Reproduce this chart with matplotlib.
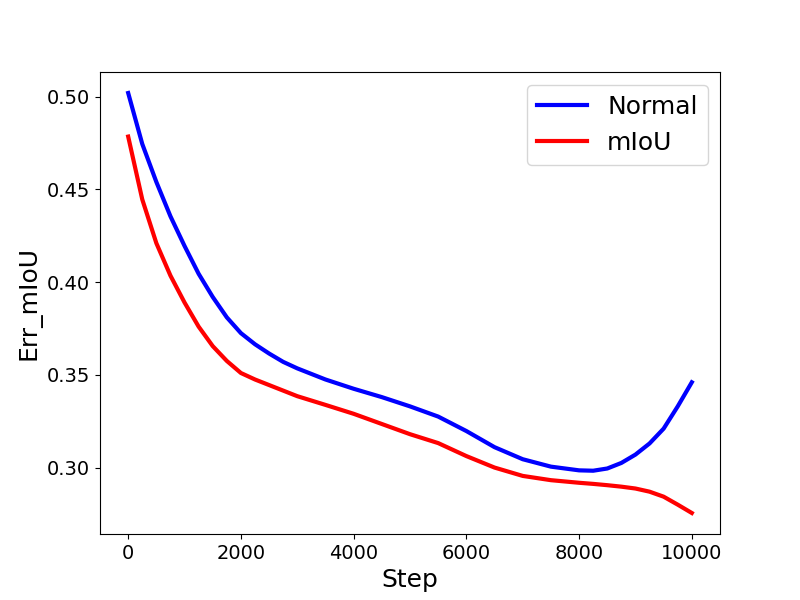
import matplotlib
matplotlib.use('Agg')
import matplotlib.pyplot as plt

# values
steps = [0, 250, 500, 750, 1000, 1250, 1500, 1750, 2000, 2250, 2500, 2750,
         3000, 3500, 4000, 4500, 5000, 5500, 6000, 6500, 7000, 7500,
         8000, 8250, 8500, 8750, 9000, 9250, 9500, 9750, 10000]
normal = [0.502, 0.4745, 0.454, 0.4355, 0.4195, 0.4045, 0.392, 0.381, 0.3725,
          0.3665, 0.3615, 0.357, 0.3535, 0.3475, 0.3425, 0.338, 0.333, 0.3275,
          0.3197, 0.311, 0.3045, 0.3005, 0.2985, 0.2983, 0.2995, 0.3025,
          0.307, 0.313, 0.321, 0.333, 0.346]
miou = [0.4785, 0.4446, 0.421, 0.4035, 0.389, 0.376, 0.3655, 0.3575, 0.351,
        0.3475, 0.3445, 0.3415, 0.3385, 0.3338, 0.329, 0.3235, 0.318, 0.3132,
        0.3062, 0.300, 0.2955, 0.2932, 0.2918, 0.2912, 0.2905, 0.2897,
        0.2887, 0.2870, 0.2843, 0.2800, 0.2755]


def plot_results():
    fig = plt.figure(figsize=(8, 6), dpi=100, facecolor='white')
    ax = fig.add_subplot(111)
    ax.plot(steps, normal, color='blue', linewidth=3, label='Normal')
    ax.plot(steps, miou, color='red', linewidth=3, label='mIoU')
    ax.set_xlabel('Step', fontsize=18)
    ax.set_ylabel('Err_mIoU', fontsize=18)
    ax.tick_params(labelsize=14)
    ax.legend(fontsize=18, loc='upper right')
    fig.savefig('out.png')


if __name__ == '__main__':
    plot_results()
